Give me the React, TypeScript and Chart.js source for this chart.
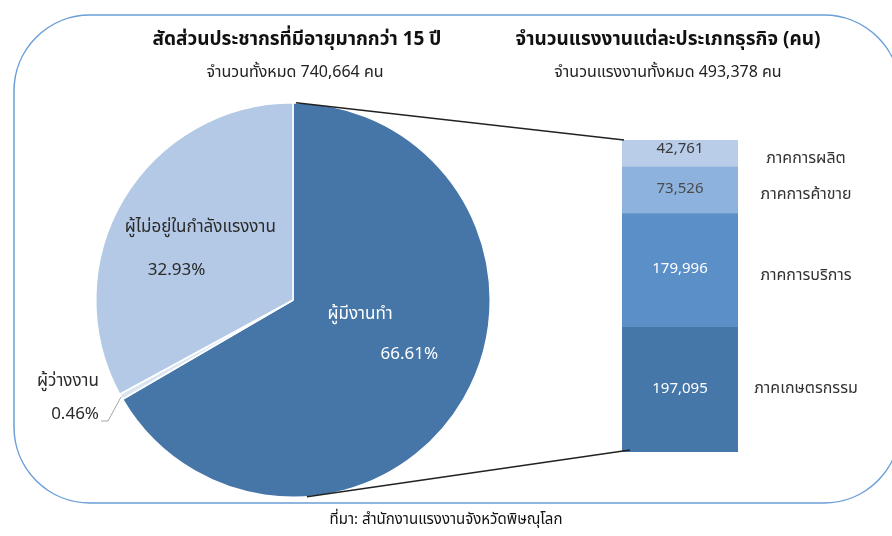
import React, { useEffect, useRef } from "react";
import { Chart, registerables } from "chart.js";

Chart.register(...registerables);

// ---- data ----
const pieLabels = ["ผู้มีงานทำ", "ผู้ว่างงาน", "ผู้ไม่อยู่ในกำลังแรงงาน"];
const piePercents = [66.61, 0.46, 32.93];
const pieColors = ["#4676a8", "#dbe5f2", "#b4c9e6"];

const sectorLabels = ["ภาคเกษตรกรรม", "ภาคการบริการ", "ภาคการค้าขาย", "ภาคการผลิต"];
const sectorWorkers = [197095, 179996, 73526, 42761];
const sectorColors = ["#4677a9", "#5a8fc8", "#8db2dd", "#b9cde9"];
const sectorValueColors = ["#ffffff", "#ffffff", "#4a4a4a", "#3a3a3a"];

const leftTitle = "สัดส่วนประชากรที่มีอายุมากกว่า 15 ปี";
const leftSubtitle = "จำนวนทั้งหมด 740,664 คน";
const rightTitle = "จำนวนแรงงานแต่ละประเภทธุรกิจ (คน)";
const rightSubtitle = "จำนวนแรงงานทั้งหมด 493,378 คน";
const sourceNote = "ที่มา: สำนักงานแรงงานจังหวัดพิษณุโลก";

const FONT = "'Noto Sans Thai', 'Noto Sans', 'DejaVu Sans', sans-serif";
const W = 892;
const H = 536;

const fmt = (v: number) => v.toLocaleString("en-US");

export default function App() {
  const pieRef = useRef<HTMLCanvasElement>(null);
  const barRef = useRef<HTMLCanvasElement>(null);

  useEffect(() => {
    if (!pieRef.current || !barRef.current) return;

    const framePlugin = {
      id: "frameAndText",
      beforeDraw(chart: any) {
        const ctx = chart.ctx;
        ctx.save();
        ctx.fillStyle = "#ffffff";
        ctx.fillRect(0, 0, W, H);
        // rounded frame
        const x0 = 14, y0 = 15, x1 = 900, y1 = 503, r = 76;
        ctx.beginPath();
        ctx.moveTo(x0 + r, y0);
        ctx.lineTo(x1 - r, y0);
        ctx.arcTo(x1, y0, x1, y0 + r, r);
        ctx.lineTo(x1, y1 - r);
        ctx.arcTo(x1, y1, x1 - r, y1, r);
        ctx.lineTo(x0 + r, y1);
        ctx.arcTo(x0, y1, x0, y1 - r, r);
        ctx.lineTo(x0, y0 + r);
        ctx.arcTo(x0, y0, x0 + r, y0, r);
        ctx.closePath();
        ctx.strokeStyle = "#6a9fd8";
        ctx.lineWidth = 1.5;
        ctx.stroke();

        ctx.textAlign = "center";
        ctx.textBaseline = "middle";
        ctx.fillStyle = "#111";
        ctx.font = `bold 19px ${FONT}`;
        ctx.fillText(leftTitle, 297, 41);
        ctx.fillText(rightTitle, 668, 41);
        ctx.fillStyle = "#222";
        ctx.font = `16px ${FONT}`;
        ctx.fillText(leftSubtitle, 295, 74);
        ctx.fillText(rightSubtitle, 668, 74);

        ctx.font = `15px ${FONT}`;
        ctx.fillStyle = "#111";
        ctx.fillText(sourceNote, 446, 521);
        ctx.restore();
      },
      afterDatasetsDraw(chart: any) {
        const ctx = chart.ctx;
        const arcs = chart.getDatasetMeta(0).data;
        const a0 = arcs[0];
        const cx = a0.x, cy = a0.y, R = a0.outerRadius;
        ctx.save();
        ctx.textAlign = "center";
        ctx.textBaseline = "middle";
        ctx.font = `17px ${FONT}`;
        // employed
        ctx.fillStyle = "#ffffff";
        ctx.fillText(pieLabels[0], cx + 0.34 * R, cy + 0.08 * R);
        ctx.fillText(piePercents[0].toFixed(2) + "%", cx + 0.59 * R, cy + 0.28 * R);
        // not in labour force
        ctx.fillStyle = "#2a2a2a";
        ctx.fillText(pieLabels[2], cx - 0.47 * R, cy - 0.36 * R);
        ctx.fillText(piePercents[2].toFixed(2) + "%", cx - 0.59 * R, cy - 0.145 * R);
        // unemployed (outside)
        const u = arcs[1];
        const mid = (u.startAngle + u.endAngle) / 2;
        const ex = cx + Math.cos(mid) * R;
        const ey = cy + Math.sin(mid) * R;
        ctx.fillText(pieLabels[1], 68, 383);
        ctx.textAlign = "right";
        ctx.fillText(piePercents[1].toFixed(2) + "%", 99, 416);
        ctx.beginPath();
        ctx.moveTo(101, 421);
        ctx.lineTo(108, 421);
        ctx.lineTo(ex, ey);
        ctx.strokeStyle = "#a6a6a6";
        ctx.lineWidth = 1;
        ctx.stroke();
        ctx.restore();
      },
    };

    const pie = new Chart(pieRef.current, {
      type: "pie",
      data: {
        labels: pieLabels,
        datasets: [
          {
            data: piePercents,
            backgroundColor: pieColors,
            borderColor: "#ffffff",
            borderWidth: 1.5,
          },
        ],
      },
      options: {
        responsive: false,
        animation: false,
        layout: { padding: { left: 95, top: 102, right: W - 491, bottom: H - 498 } },
        plugins: { legend: { display: false }, tooltip: { enabled: false } },
      },
      plugins: [framePlugin],
    });

    const labelY = [390, 277, 196, 160];

    const barPlugin = {
      id: "barText",
      afterDatasetsDraw(chart: any) {
        const ctx = chart.ctx;
        ctx.save();
        ctx.textAlign = "center";
        ctx.textBaseline = "middle";
        let top = Infinity, bottom = -Infinity, left = 0;
        chart.data.datasets.forEach((ds: any, i: number) => {
          const el = chart.getDatasetMeta(i).data[0];
          const yTop = Math.min(el.y, el.base);
          const yBot = Math.max(el.y, el.base);
          top = Math.min(top, yTop);
          bottom = Math.max(bottom, yBot);
          left = el.x - el.width / 2;
          ctx.font = `15px ${FONT}`;
          ctx.fillStyle = sectorValueColors[i];
          const my = (yTop + yBot) / 2 - (i === 3 ? 4 : 0);
          ctx.fillText(fmt(ds.data[0]), el.x, my);
          ctx.font = `16px ${FONT}`;
          ctx.fillStyle = "#333";
          ctx.fillText(ds.label, 806, labelY[i]);
        });
        // connectors to pie
        const arc = pie.getDatasetMeta(0).data[0] as any;
        const cx = arc.x, cy = arc.y, R = arc.outerRadius;
        ctx.strokeStyle = "#222";
        ctx.lineWidth = 1.5;
        ctx.beginPath();
        ctx.moveTo(cx + 3, cy - R);
        ctx.lineTo(left + 2, top);
        ctx.moveTo(cx + 14, cy + R - 0.5);
        ctx.lineTo(left + 8, bottom - 2);
        ctx.stroke();
        ctx.restore();
      },
    };

    const total = sectorWorkers.reduce((a, b) => a + b, 0);
    const bar = new Chart(barRef.current, {
      type: "bar",
      data: {
        labels: [""],
        datasets: sectorLabels.map((lab, i) => ({
          label: lab,
          data: [sectorWorkers[i]],
          backgroundColor: sectorColors[i],
          borderWidth: 0,
          barPercentage: 1,
          categoryPercentage: 1,
        })),
      },
      options: {
        responsive: false,
        animation: false,
        layout: { padding: { left: 622, top: 140, right: W - 738, bottom: H - 452 } },
        scales: {
          x: { stacked: true, display: false },
          y: { stacked: true, display: false, min: 0, max: total },
        },
        plugins: { legend: { display: false }, tooltip: { enabled: false } },
      },
      plugins: [barPlugin],
    });

    return () => {
      bar.destroy();
      pie.destroy();
    };
  }, []);

  return (
    <div style={{ position: "fixed", left: 0, top: 0, width: W, height: H, background: "#fff" }}>
      <canvas ref={pieRef} width={W} height={H} style={{ position: "absolute", left: 0, top: 0, width: W, height: H }} />
      <canvas ref={barRef} width={W} height={H} style={{ position: "absolute", left: 0, top: 0, width: W, height: H }} />
    </div>
  );
}
